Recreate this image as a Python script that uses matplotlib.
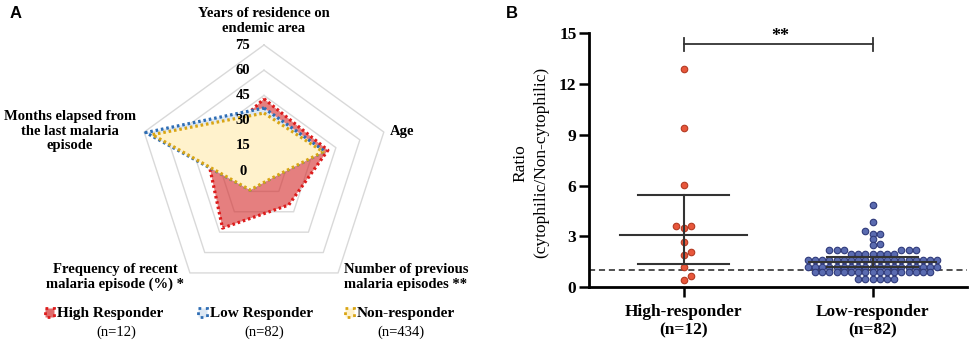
import numpy as np
import matplotlib
matplotlib.use('Agg')
import matplotlib.pyplot as plt
from matplotlib.patches import Rectangle

# ---- panel A: radar chart, all axes on the same 0-75 scale
radar_labels = ['Years of residence on\nendemic area', 'Age',
                'Number of previous\nmalaria episodes **',
                'Frequency of recent\nmalaria episode (%) *',
                'Months elapsed from\nthe last malaria\nepisode']
radar_ticks = [0, 15, 30, 45, 60, 75]
high_resp = [43, 40, 25, 42, 36]
low_resp = [37.5, 38, 6, 14, 74]
non_resp = [34.5, 37, 6, 14, 70]
group_names = ['High Responder', 'Low Responder', 'Non-responder']
group_n = ['(n=12)', '(n=82)', '(n=434)']

# ---- panel B: ratio per subject
cat_labels = ['High-responder\n(n=12)', 'Low-responder\n(n=82)']
high_ratio = [12.9, 9.4, 6.05, 3.6, 3.6, 3.5, 2.65, 2.05, 1.9, 1.2, 0.65, 0.4]
low_ratio = ([4.85, 3.85, 3.3, 3.15, 3.15, 2.85, 2.57, 2.47]
             + [2.17] * 6
             + [1.97] * 7
             + [1.62] * 19
             + [1.18] * 19
             + [0.89] * 17
             + [0.5] * 6)
high_summary = [3.1, 1.38, 5.43]   # middle line, lower cap, upper cap
low_summary = [1.45, 1.2, 1.75]
threshold = 1.0

plt.rcParams['font.family'] = ['Liberation Serif', 'DejaVu Serif']
plt.rcParams['font.weight'] = 'bold'

W, H = 976, 347
fig = plt.figure(figsize=(W / 100, H / 100), dpi=100)

# ===================== panel A =====================
axa = fig.add_axes([0, 0, 500 / W, 1])
axa.set_xlim(0, 500)
axa.set_ylim(H, 0)
axa.axis('off')

cx, cy, R = 264, 171, 126   # pixel centre and radius of the 75 ring
angles = np.deg2rad([90, 18, -54, -126, 162])


def radar_xy(vals):
    r = np.asarray(vals, float) / 75.0 * R
    x = cx + r * np.cos(angles)
    y = cy - r * np.sin(angles)
    return np.append(x, x[0]), np.append(y, y[0])


for t in radar_ticks[1:]:
    gx, gy = radar_xy([t] * 5)
    axa.plot(gx, gy, color='#d9d9d9', lw=1, zorder=1)

dots = (0, (0.8, 0.9))
series = [(high_resp, '#dd1c1c', '#d42a2a', 0.6),
          (low_resp, '#2e6db4', '#dde8f4', 1.0),
          (non_resp, '#d9a514', '#fff2cc', 1.0)]
z = 2
for vals, lc, fc, al in series:
    x, y = radar_xy(vals)
    axa.fill(x, y, color=fc, alpha=al, lw=0, zorder=z)
    axa.plot(x, y, color=lc, lw=2.3, ls=dots, zorder=z + 1)
    z += 2

for t in radar_ticks:
    axa.text(243, cy - t / 75.0 * R, str(t), ha='center', va='center',
             fontsize=10.5, zorder=20)

lab_pos = [(264, 21, 'center'), (390, 131, 'left'), (406, 277, 'center'),
           (115, 277, 'center'), (70, 131, 'center')]
for (lx, ly, ha), txt in zip(lab_pos, radar_labels):
    axa.text(lx, ly, txt, ha=ha, va='center', fontsize=10.5, linespacing=1.15)

leg_x = [45, 198, 345]
leg_n_x = [116, 264, 401]
for i, (vals, lc, fc, al) in enumerate(series):
    fill_c = '#e06a6a' if i == 0 else fc
    axa.add_patch(Rectangle((leg_x[i], 308), 9, 9, facecolor=fill_c,
                            edgecolor=lc, lw=2, ls=':'))
    axa.text(leg_x[i] + 12, 313, group_names[i], ha='left', va='center', fontsize=11)
    axa.text(leg_n_x[i], 332, group_n[i], ha='center', va='center',
             fontsize=10.5, fontweight='normal')

fig.text(10 / W, 1 - 13 / H, 'A', fontsize=12, fontweight='bold',
         family='Liberation Sans', ha='left', va='center')
fig.text(506 / W, 1 - 13 / H, 'B', fontsize=12, fontweight='bold',
         family='Liberation Sans', ha='left', va='center')

# ===================== panel B =====================
x0, x1, y0, y1 = 589, 967, 287, 33.3
axb = fig.add_axes([x0 / W, 1 - y0 / H, (x1 - x0) / W, (y0 - y1) / H])
axb.set_xlim(-0.5, 1.5)
axb.set_ylim(0, 15)
px_x = (x1 - x0) / 2.0
px_y = (y0 - y1) / 15.0


def swarm_offsets(values, step=7.2, gap=4.5):
    # simple column swarm: each point takes the nearest free slot k*step
    vals = np.asarray(values, float)
    order = np.argsort(vals)
    placed = []
    offs = np.zeros(len(vals))
    cands = [0.0]
    for k in range(1, 40):
        cands += [k * step, -k * step]
    for i in order:
        yy = vals[i] * px_y
        for c in cands:
            if all((c - px) ** 2 + (yy - py) ** 2 >= gap ** 2 for px, py in placed):
                offs[i] = c
                placed.append((c, yy))
                break
    return offs / px_x


groups = [(high_ratio, high_summary, '#e8573b', '#b33a22'),
          (low_ratio, low_summary, '#5a6bb0', '#2f3a7a')]
for gi, (vals, summ, fc, ec) in enumerate(groups):
    xs = gi + swarm_offsets(vals)
    axb.scatter(xs, vals, s=22, facecolor=fc, edgecolor=ec, lw=0.8, zorder=3)
    axb.plot([gi - 0.336, gi + 0.336], [summ[0]] * 2, color='#333333', lw=1.5, zorder=4)
    axb.plot([gi, gi], [summ[1], summ[2]], color='#333333', lw=1.5, zorder=4)
    for v in summ[1:]:
        axb.plot([gi - 0.24, gi + 0.24], [v, v], color='#333333', lw=1.5, zorder=4)

axb.axhline(threshold, color='#222222', lw=1.1, ls=(0, (4, 2.5)), zorder=2)

# significance bracket
axb.plot([0, 1], [14.37, 14.37], color='#333333', lw=1.3, clip_on=False)
for xb in [0, 1]:
    axb.plot([xb, xb], [13.93, 14.75], color='#333333', lw=1.3, clip_on=False)
axb.text(0.51, 14.8, '**', ha='center', va='center', fontsize=13)

for s in ['top', 'right']:
    axb.spines[s].set_visible(False)
for s in ['left', 'bottom']:
    axb.spines[s].set_linewidth(2)
axb.set_yticks([0, 3, 6, 9, 12, 15])
axb.set_xticks([0, 1])
axb.set_xticklabels(cat_labels, fontsize=12.5, linespacing=1.25)
axb.tick_params(axis='y', direction='out', length=7, width=1.8, labelsize=12.5, pad=2)
axb.tick_params(axis='x', direction='out', length=7, width=1.8, pad=5)
axb.set_ylabel('Ratio\n(cytophilic/Non-cytophilic)', fontsize=12.5, linespacing=1.4)
axb.yaxis.set_label_coords(-0.105, 0.49)

fig.savefig('out.png', dpi=100)
